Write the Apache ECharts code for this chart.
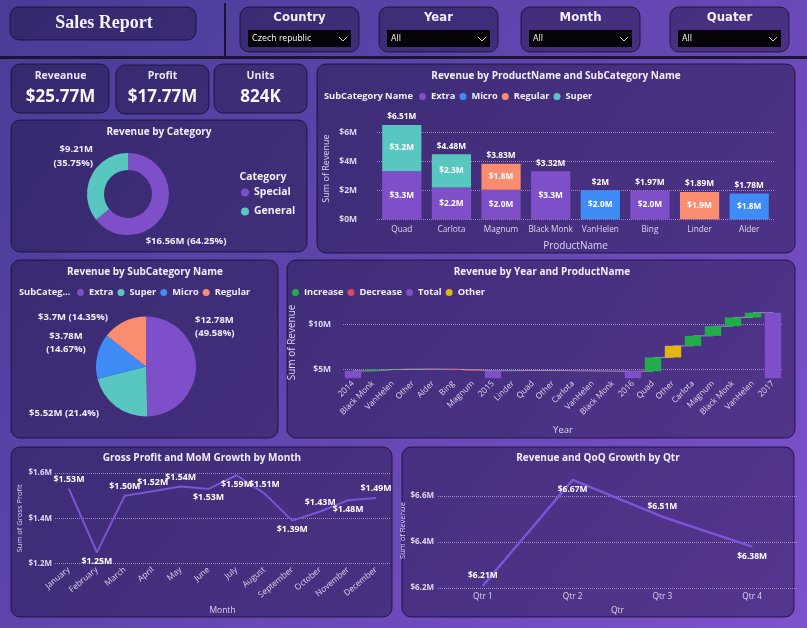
<!DOCTYPE html>
<html>
<head>
<meta charset="utf-8">
<title>Sales Report</title>
<script src="https://cdn.jsdelivr.net/npm/echarts@6/dist/echarts.min.js"></script>
<style>
  html, body { margin: 0; padding: 0; }
  #main { width: 807px; height: 628px; }
</style>
</head>
<body>
<div id="main"></div>
<script>
// ---- data ----
const kpiNames = ['Reveanue', 'Profit', 'Units'];
const kpiValues = ['$25.77M', '$17.77M', '824K'];

const slicerNames = ['Country', 'Year', 'Month', 'Quater'];
const slicerValues = ['Czech republic', 'All', 'All', 'All'];

const categoryNames = ['Special', 'General'];
const categoryRevenue = [16.556, 9.214];

const products = ['Quad', 'Carlota', 'Magnum', 'Black Monk', 'VanHelen', 'Bing', 'Linder', 'Alder'];
const subCats = ['Extra', 'Micro', 'Regular', 'Super'];
const extraRev = [3.31, 2.20, 2.03, 3.32, 0, 1.97, 0, 0];
const microRev = [0, 0, 0, 0, 2.00, 0, 0, 1.78];
const regularRev = [0, 0, 1.80, 0, 0, 0, 1.89, 0];
const superRev = [3.20, 2.28, 0, 0, 0, 0, 0, 0];

const pieNames = ['Extra', 'Super', 'Micro', 'Regular'];
const pieRevenue = [12.778, 5.516, 3.781, 3.698];

const wfLabels = ['2014', 'Black Monk', 'VanHelen', 'Other', 'Alder', 'Bing', 'Magnum', '2015',
  'Linder', 'Quad', 'Other', 'Carlota', 'VanHelen', 'Black Monk', '2016',
  'Quad', 'Other', 'Carlota', 'Magnum', 'Black Monk', 'VanHelen', '2017'];
const wfKinds = ['Total', 'Increase', 'Increase', 'Other', 'Decrease', 'Decrease', 'Decrease', 'Total',
  'Increase', 'Decrease', 'Other', 'Decrease', 'Decrease', 'Decrease', 'Total',
  'Increase', 'Other', 'Increase', 'Increase', 'Increase', 'Increase', 'Total'];
const wfValues = [4.82, 0.15, 0.04, 0.01, -0.02, -0.06, -0.10, 4.84,
  0.02, -0.01, -0.01, -0.02, -0.02, -0.02, 4.78,
  1.54, 1.30, 1.12, 1.08, 0.98, 0.53, 11.33];

const months = ['January', 'February', 'March', 'April', 'May', 'June', 'July', 'August',
  'September', 'October', 'November', 'December'];
const grossProfit = [1.53, 1.25, 1.50, 1.52, 1.54, 1.53, 1.59, 1.51, 1.39, 1.43, 1.48, 1.49];

const quarters = ['Qtr 1', 'Qtr 2', 'Qtr 3', 'Qtr 4'];
const qtrRevenue = [6.21, 6.67, 6.51, 6.38];

// ---- styles ----
const FONT = "'Open Sans', 'Noto Sans', sans-serif";
const COND = "'Liberation Sans Narrow', 'DejaVu Sans Condensed', sans-serif";
const TXT = '#f1eef9';
const AXT = '#ddd8ee';
const colors = {
  Extra: '#7f4fca', Micro: '#3f8cf6', Regular: '#fa8d70', Super: '#58c7bf',
  Special: '#7f4fca', General: '#58c7bf',
  Increase: '#1fae4a', Decrease: '#e4465c', Total: '#7f4fca', Other: '#e2b60c'
};
const LINE = '#7c55d6';
const gpLabelPos = ['top', 'bottom', 'top', 'top', 'top', 'bottom', 'bottom', 'top', 'bottom', 'top', 'bottom', 'top'];
const qtrLabelPos = ['top', 'bottom', 'top', 'bottom'];
const donutLabelPos = [
  { x: 186, y: 241, align: 'center' },
  { x: 93, y: 156, align: 'right' }
];
const pieLabelPos = [
  { x: 195, y: 327, align: 'left' },
  { x: 64, y: 413, align: 'center' },
  { x: 66, y: 343, align: 'center' },
  { x: 73, y: 317, align: 'center' }
];

function money(v) { return '$' + (+v.toFixed(2)) + 'M'; }

// ---- derived ----
const barTotals = products.map((p, i) => extraRev[i] + microRev[i] + regularRev[i] + superRev[i]);
const subData = { Extra: extraRev, Micro: microRev, Regular: regularRev, Super: superRev };

const wfBase = [], wfHeight = [], wfLevel = [];
let run = 0;
wfValues.forEach((v, i) => {
  if (wfKinds[i] === 'Total') {
    run = v; wfBase.push(0); wfHeight.push(v);
  } else {
    const end = run + v;
    wfBase.push(Math.min(run, end)); wfHeight.push(Math.abs(v));
    run = end;
  }
  wfLevel.push(+run.toFixed(4));
});

// ---- panels & static text ----
const panels = [
  [10, 7, 186, 33],
  [240, 7, 119, 45], [379, 7, 119, 45], [521, 7, 119, 45], [670, 7, 119, 45],
  [11, 64, 98, 49], [116, 65, 93, 49], [214, 64, 93, 49],
  [11, 120, 296, 132],
  [317, 64, 478, 189],
  [11, 260, 267, 178],
  [287, 260, 508, 178],
  [11, 447, 381, 170],
  [402, 447, 392, 170]
];
const graphic = panels.map(p => ({
  type: 'rect', z: -10, silent: true,
  shape: { x: p[0], y: p[1], width: p[2], height: p[3], r: 9 },
  style: { fill: 'rgba(22,12,48,0.40)', stroke: 'rgba(18,10,40,0.75)', lineWidth: 1 }
}));

function text(x, y, t, font, align, color) {
  return { type: 'text', z: 10, silent: true, x: x, y: y,
    style: { text: t, font: font, fill: color || TXT, align: align || 'center', verticalAlign: 'middle' } };
}

graphic.push(
  { type: 'line', z: 5, shape: { x1: 225, y1: 3, x2: 225, y2: 57 }, style: { stroke: '#1c1436', lineWidth: 2 } },
  { type: 'line', z: 5, shape: { x1: 0, y1: 57.5, x2: 807, y2: 57.5 }, style: { stroke: '#1c1436', lineWidth: 3 } },
  text(104, 23, 'Sales Report', "bold 18px 'Liberation Serif', 'DejaVu Serif', serif", 'center', '#f4f2fa')
);

const slicerX = [240, 379, 521, 670];
slicerNames.forEach((n, i) => {
  const x = slicerX[i];
  graphic.push(
    text(x + 59.5, 18, n, 'bold 13px ' + COND),
    { type: 'rect', z: 5, shape: { x: x + 8, y: 30, width: 103, height: 17 }, style: { fill: '#050308' } },
    text(x + 12, 39, slicerValues[i], '9px ' + COND, 'left', '#f2f2f2'),
    { type: 'polyline', z: 6, shape: { points: [[x + 99, 37], [x + 103, 41], [x + 107, 37]] },
      style: { stroke: '#cfcfcf', lineWidth: 1, fill: null } }
  );
});

const kpiX = [60.5, 162.5, 260.5];
kpiNames.forEach((n, i) => {
  graphic.push(
    text(kpiX[i], 76, n, 'bold 10.5px ' + FONT, 'center', '#e9e6f3'),
    text(kpiX[i], 97, kpiValues[i], 'bold 17px ' + FONT, 'center', '#f7f6fb')
  );
});

const TITLE = 'bold 10px ' + FONT;
graphic.push(
  text(159, 132, 'Revenue by Category', TITLE),
  text(556, 76, 'Revenue by ProductName and SubCategory Name', TITLE),
  text(145, 272, 'Revenue by SubCategory Name', TITLE),
  text(542, 272, 'Revenue by Year and ProductName', TITLE),
  text(202, 458, 'Gross Profit and MoM Growth by Month', TITLE),
  text(598, 458, 'Revenue and QoQ Growth by Qtr', TITLE),
  text(263, 177, 'Category', 'bold 10.5px ' + FONT),
  text(324, 96, 'SubCategory Name', 'bold 9.3px ' + FONT, 'left'),
  text(19, 292, 'SubCateg...', 'bold 9.3px ' + FONT, 'left')
);

// ---- chart ----
const chart = echarts.init(document.getElementById('main'));

const legendText = { color: TXT, fontSize: 9.3, fontWeight: 'bold', fontFamily: FONT };
function legend(opts) {
  return Object.assign({ icon: 'circle', itemWidth: 7, itemHeight: 7, itemGap: 4,
    textStyle: legendText, selectedMode: false, padding: 0 }, opts);
}
const dotted = { show: true, lineStyle: { color: 'rgba(235,230,250,0.5)', type: 'dotted', width: 1 } };
const yLab = { color: AXT, fontSize: 8.5, fontWeight: 'bold', fontFamily: FONT };
const xLab = { color: AXT, fontSize: 8.3, fontFamily: FONT };
const nameStyle = { color: AXT, fontSize: 9.5, fontFamily: FONT };
const valLabel = { color: '#ffffff', fontSize: 8.3, fontWeight: 'bold', fontFamily: FONT };

const series = [];

series.push({
  type: 'pie', center: [128, 194], radius: [24, 41], startAngle: 90, clockwise: true,
  data: categoryNames.map((n, i) => ({ name: n, value: categoryRevenue[i], itemStyle: { color: colors[n] } })),
  label: {
    show: true, color: TXT, fontSize: 9.5, fontWeight: 'bold', fontFamily: FONT, lineHeight: 14, overflow: 'none',
    formatter: p => money(p.value) + (p.dataIndex === 1 ? '\n' : ' ') + '(' + p.percent + '%)'
  },
  labelLine: { show: false },
  labelLayout: p => Object.assign({ verticalAlign: 'middle' }, donutLabelPos[p.dataIndex])
});

subCats.forEach(s => {
  series.push({
    name: s, type: 'bar', stack: 'rev', xAxisIndex: 0, yAxisIndex: 0, barWidth: '79%',
    data: subData[s], itemStyle: { color: colors[s] },
    label: Object.assign({ show: true, position: 'inside',
      formatter: p => p.value ? '$' + p.value.toFixed(1) + 'M' : '' }, valLabel)
  });
});
series.push({
  name: 'Total revenue', type: 'bar', xAxisIndex: 0, yAxisIndex: 0, barWidth: '79%', barGap: '-100%',
  data: barTotals, itemStyle: { color: 'rgba(0,0,0,0)' }, silent: true,
  label: Object.assign({ show: true, position: 'top', distance: 4, formatter: p => money(p.value) }, valLabel)
});

series.push({
  type: 'pie', center: [146, 366.5], radius: 50, startAngle: 90, clockwise: true,
  data: pieNames.map((n, i) => ({ name: n, value: pieRevenue[i], itemStyle: { color: colors[n] } })),
  label: {
    show: true, color: TXT, fontSize: 9.5, fontWeight: 'bold', fontFamily: FONT, lineHeight: 13, overflow: 'none',
    formatter: p => money(p.value) + ((p.dataIndex === 0 || p.dataIndex === 2) ? '\n' : ' ') + '(' + p.percent + '%)'
  },
  labelLine: { show: false },
  labelLayout: p => Object.assign({ verticalAlign: 'middle' }, pieLabelPos[p.dataIndex])
});

series.push({
  name: 'connector', type: 'line', step: 'end', xAxisIndex: 1, yAxisIndex: 1, z: 1,
  symbol: 'none', silent: true, data: wfLevel,
  lineStyle: { color: 'rgba(200,195,215,0.7)', width: 1 }
});
series.push({
  name: 'base', type: 'bar', stack: 'wf', xAxisIndex: 1, yAxisIndex: 1, barWidth: '82%',
  data: wfBase, itemStyle: { color: 'rgba(0,0,0,0)' }, silent: true
});
['Increase', 'Decrease', 'Total', 'Other'].forEach(k => {
  series.push({
    name: k, type: 'bar', stack: 'wf', xAxisIndex: 1, yAxisIndex: 1, barWidth: '82%', z: 3,
    data: wfHeight.map((h, i) => wfKinds[i] === k ? h : '-'),
    itemStyle: { color: colors[k] }
  });
});

series.push({
  type: 'line', xAxisIndex: 2, yAxisIndex: 2, symbol: 'circle', symbolSize: 1,
  itemStyle: { color: LINE }, lineStyle: { color: LINE, width: 2 },
  data: grossProfit.map((v, i) => ({ value: v, label: { position: gpLabelPos[i] } })),
  label: Object.assign({ show: true, distance: 4, formatter: p => '$' + p.value.toFixed(2) + 'M' }, valLabel, { fontSize: 8.8 })
});
series.push({
  type: 'line', xAxisIndex: 3, yAxisIndex: 3, symbol: 'circle', symbolSize: 1,
  itemStyle: { color: LINE }, lineStyle: { color: LINE, width: 2.5 },
  data: qtrRevenue.map((v, i) => ({ value: v, label: { position: qtrLabelPos[i] } })),
  label: Object.assign({ show: true, distance: 5, formatter: p => '$' + p.value.toFixed(2) + 'M' }, valLabel, { fontSize: 8.5 })
});

const option = {
  animation: false,
  backgroundColor: new echarts.graphic.LinearGradient(0, 0, 1, 1, [
    { offset: 0, color: '#483c96' }, { offset: 1, color: '#7e51cd' }
  ]),
  textStyle: { fontFamily: FONT },
  graphic: graphic,
  legend: [
    legend({ orient: 'vertical', left: 241, top: 187, itemGap: 8, itemWidth: 8, itemHeight: 8, data: categoryNames,
      textStyle: Object.assign({}, legendText, { fontSize: 10.5 }) }),
    legend({ left: 419, top: 92, data: subCats }),
    legend({ left: 77, top: 288, data: pieNames }),
    legend({ left: 292, top: 288, data: ['Increase', 'Decrease', 'Total', 'Other'] })
  ],
  grid: [
    { left: 377, right: 33, top: 117.8, height: 101.5 },
    { left: 343, right: 24, top: 306.7, height: 71.5 },
    { left: 55, right: 417, top: 473, height: 90.7 },
    { left: 438, right: 10, top: 473, height: 115 }
  ],
  xAxis: [
    { type: 'category', gridIndex: 0, data: products, axisLine: { show: false }, axisTick: { show: false },
      axisLabel: Object.assign({ interval: 0, margin: 6 }, xLab),
      name: 'ProductName', nameLocation: 'middle', nameGap: 22, nameTextStyle: Object.assign({}, nameStyle, { fontSize: 10 }) },
    { type: 'category', gridIndex: 1, data: wfLabels, axisLine: { show: false }, axisTick: { show: false },
      axisLabel: Object.assign({ interval: 0, rotate: 45, margin: 4 }, xLab, { fontSize: 8.3 }),
      name: 'Year', nameLocation: 'middle', nameGap: 47, nameTextStyle: nameStyle },
    { type: 'category', gridIndex: 2, data: months, axisLine: { show: false }, axisTick: { show: false },
      axisLabel: Object.assign({ interval: 0, rotate: 40, margin: 5 }, xLab, { fontSize: 8.3 }),
      name: 'Month', nameLocation: 'middle', nameGap: 42, nameTextStyle: Object.assign({}, nameStyle, { fontSize: 8.5 }) },
    { type: 'category', gridIndex: 3, data: quarters, axisLine: { show: false }, axisTick: { show: false },
      axisLabel: Object.assign({ interval: 0, margin: 5 }, xLab),
      name: 'Qtr', nameLocation: 'middle', nameGap: 18, nameTextStyle: Object.assign({}, nameStyle, { fontSize: 8.5 }) }
  ],
  yAxis: [
    { type: 'value', gridIndex: 0, min: 0, max: 7, interval: 2,
      axisLabel: Object.assign({ margin: 20, showMaxLabel: false, formatter: v => '$' + v + 'M' }, yLab),
      splitLine: Object.assign({ showMaxLine: false }, dotted),
      name: 'Sum of Revenue', nameLocation: 'middle', nameGap: 46, nameTextStyle: Object.assign({}, nameStyle, { fontSize: 9 }) },
    { type: 'value', gridIndex: 1, min: 4, max: 12,
      axisLabel: Object.assign({ margin: 12, customValues: [5, 10], formatter: v => '$' + v + 'M' }, yLab),
      axisTick: { show: false, customValues: [5, 10] },
      splitLine: dotted,
      name: 'Sum of Revenue', nameLocation: 'middle', nameGap: 44, nameTextStyle: Object.assign({}, nameStyle, { fontSize: 10 }) },
    { type: 'value', gridIndex: 2, min: 1.2, max: 1.6, interval: 0.2,
      axisLabel: Object.assign({ margin: 3, formatter: v => '$' + (+v.toFixed(1)) + 'M' }, yLab, { fontSize: 8 }),
      splitLine: dotted,
      name: 'Sum of Gross Profit', nameLocation: 'middle', nameGap: 31,
      nameTextStyle: Object.assign({}, nameStyle, { fontSize: 7.5 }) },
    { type: 'value', gridIndex: 3, min: 6.2, max: 6.7, interval: 0.2,
      axisLabel: Object.assign({ margin: 4, showMaxLabel: false, formatter: v => '$' + (+v.toFixed(1)) + 'M' }, yLab, { fontSize: 8 }),
      splitLine: Object.assign({ showMaxLine: false }, dotted),
      name: 'Sum of Revenue', nameLocation: 'middle', nameGap: 26,
      nameTextStyle: Object.assign({}, nameStyle, { fontSize: 7.5 }) }
  ],
  series: series
};

chart.setOption(option);
</script>
</body>
</html>
